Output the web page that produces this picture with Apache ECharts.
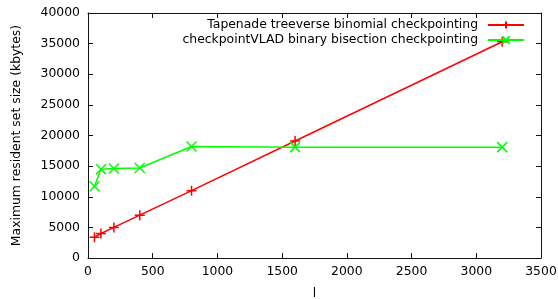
<!DOCTYPE html>
<html>
<head>
<meta charset="utf-8">
<script src="https://cdn.jsdelivr.net/npm/echarts@6/dist/echarts.min.js"></script>
<style>
  html, body { margin: 0; padding: 0; background: #fff; }
  #main { width: 558px; height: 299px; }
</style>
</head>
<body>
<div id="main"></div>
<script>
// values
const lValues = [50, 100, 200, 400, 800, 1600, 3200]
const tapenade = [3400, 4000, 5000, 7000, 11000, 19100, 35300]
const vlad = [11700, 14500, 14600, 14700, 18200, 18100, 18100]
const tapenadeName = 'Tapenade treeverse binomial checkpointing'
const vladName = 'checkpointVLAD binary bisection checkpointing'

const font = 'DejaVu Sans'
const fs = 12.4
const plus = 'path://M0,5L10,5M5,0L5,10'
const cross = 'path://M0,0L10,10M10,0L0,10'

const chart = echarts.init(document.getElementById('main'))

const xBase = {
  type: 'value', min: 0, max: 3500, interval: 500,
  splitLine: { show: false },
  axisLine: { onZero: false, lineStyle: { color: '#111', width: 1 } },
  axisTick: { inside: true, length: 5, lineStyle: { color: '#111' } }
}
const yBase = {
  type: 'value', min: 0, max: 40000, interval: 5000,
  splitLine: { show: false },
  axisLine: { show: true, onZero: false, lineStyle: { color: '#111', width: 1 } },
  axisTick: { show: true, inside: true, length: 5, lineStyle: { color: '#111' } }
}

function pairs(ys) {
  return lValues.map((x, i) => [x, ys[i]])
}

const legendBase = {
  right: 33, align: 'right',
  itemWidth: 36, itemHeight: 9, padding: 0,
  textStyle: { fontFamily: font, fontSize: fs, color: '#000', padding: [0, 5, 0, 0] }
}

chart.setOption({
  animation: false,
  textStyle: { fontFamily: font },
  grid: { left: 88, right: 17, top: 13, bottom: 41, outerBoundsMode: 'none', containLabel: false },
  legend: [
    Object.assign({}, legendBase, { data: [tapenadeName], top: 19 }),
    Object.assign({}, legendBase, { data: [vladName], top: 34 })
  ],
  xAxis: [
    Object.assign({}, xBase, {
      position: 'bottom',
      name: 'l', nameLocation: 'middle', nameGap: 30,
      nameTextStyle: { fontFamily: font, fontSize: fs, color: '#000' },
      axisLabel: { fontFamily: font, fontSize: fs, color: '#000', margin: 8, formatter: v => String(v) }
    }),
    Object.assign({}, xBase, { position: 'top', axisLabel: { show: false } })
  ],
  yAxis: [
    Object.assign({}, yBase, {
      position: 'left',
      name: 'Maximum resident set size (kbytes)', nameLocation: 'middle', nameGap: 65,
      nameTextStyle: { fontFamily: font, fontSize: fs, color: '#000' },
      axisLabel: { fontFamily: font, fontSize: fs, color: '#000', margin: 8, formatter: v => String(v) }
    }),
    Object.assign({}, yBase, { position: 'right', axisLabel: { show: false } })
  ],
  series: [
    {
      name: tapenadeName, type: 'line', data: pairs(tapenade),
      symbol: plus, symbolSize: 10, showAllSymbol: true,
      lineStyle: { color: '#ff0000', width: 1.5 },
      itemStyle: { color: '#ff0000', borderColor: '#ff0000', borderWidth: 1.5 }
    },
    {
      name: vladName, type: 'line', data: pairs(vlad),
      symbol: cross, symbolSize: 10, showAllSymbol: true,
      lineStyle: { color: '#00ff00', width: 1.5 },
      itemStyle: { color: '#00ff00', borderColor: '#00ff00', borderWidth: 1.5 }
    }
  ]
})
</script>
</body>
</html>
